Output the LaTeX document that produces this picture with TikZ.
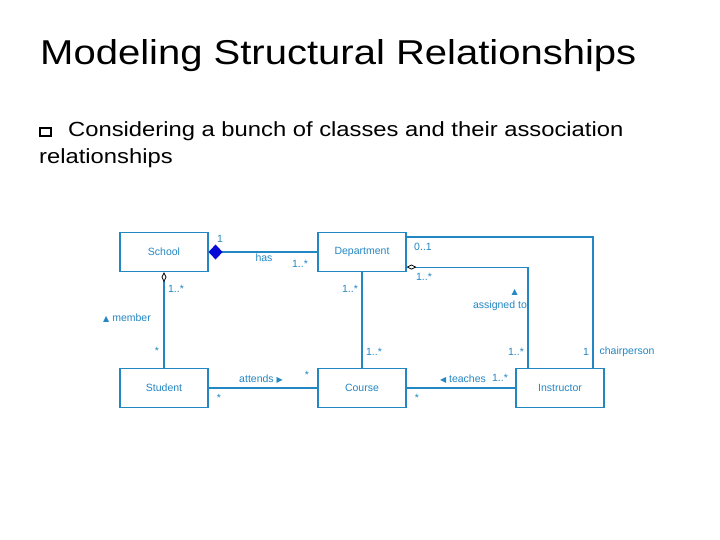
\documentclass[tikz,border=0pt]{standalone}
\usepackage{fontspec}
\setmainfont{Liberation Sans}[FakeStretch=1.16]
\newfontfamily\diafont{Liberation Sans}
\newfontfamily\symfont{DejaVu Sans}
\usetikzlibrary{arrows.meta}
\definecolor{umlblue}{RGB}{35,135,195}
\definecolor{umlfill}{RGB}{10,10,215}
\tikzset{
  cls/.style={draw=umlblue, line width=1.1pt, minimum width=88pt, minimum height=39pt,
    inner sep=0pt, text=umlblue, font=\diafont\fontsize{10.5}{12}\selectfont},
  assoc/.style={draw=umlblue, line width=1.1pt},
  lbl/.style={text=umlblue, inner sep=0pt, font=\diafont\fontsize{10.5}{12}\selectfont},
  hollow/.style={{Diamond[open,color=black,length=10pt,width=5pt,line width=0.8pt]}-},
}
\newcommand{\uptri}{{\symfont\fontsize{8}{8}\selectfont ▲}}
\newcommand{\righttri}{{\symfont\fontsize{8}{8}\selectfont ▶}}
\newcommand{\lefttri}{{\symfont\fontsize{8}{8}\selectfont ◀}}
\begin{document}
\begin{tikzpicture}[x=1pt,y=-1pt]
\useasboundingbox[fill=white] (0,0) rectangle (720,540);
% Title and bullet text
\node[anchor=base west, inner sep=0pt, font=\fontsize{34.5}{40}\selectfont] (title) at (40,65) {Modeling Structural Relationships};
\node[draw, line width=2.8pt, minimum width=11pt, minimum height=8pt, inner sep=0pt] (bullet) at (45.5,132) {};
\node[anchor=base west, inner sep=0pt, font=\fontsize{20.5}{24}\selectfont] (point) at (68,137) {Considering a bunch of classes and their association};
\node[anchor=base west, inner sep=0pt, font=\fontsize{20.5}{24}\selectfont] (point2) at (39,164) {relationships};
% Classes
\node[cls] (school) at (164,252) {School};
\node[cls] (dept) at (362,252) {Department};
\node[cls] (student) at (164,388) {Student};
\node[cls] (course) at (362,388) {Course};
\node[cls] (instr) at (560,388) {Instructor};
% Associations
\draw[assoc, {Diamond[length=14pt,width=15pt,color=umlfill,fill=umlfill]}-] (school.east) -- (dept.west);
\draw[assoc, hollow] (school.south) -- (student.north);
\draw[assoc] (dept.south) -- (course.north);
\draw[assoc] (student.east) -- (course.west);
\draw[assoc] (course.east) -- (instr.west);
\draw[assoc] ([yshift=-5pt]dept.north east) -| ([xshift=33pt]instr.north);
\draw[assoc, hollow] ([yshift=5pt]dept.south east) -| ([xshift=-32pt]instr.north);
% Labels
\node[lbl] (l1) at (220,239) {1};
\node[lbl] (has) at (264,258) {has};
\node[lbl] (m1) at (300,264) {1..*};
\node[lbl] (m2) at (176,289) {1..*};
\node[lbl] (m3) at (350,289) {1..*};
\node[lbl] (m4) at (423,247) {0..1};
\node[lbl] (m5) at (424,277) {1..*};
\node[lbl] (member) at (127,318) {\uptri\ member};
\node[lbl, align=right] (assigned) at (500,300) {\uptri\hspace*{9pt}\\[2pt] assigned to};
\node[lbl] (m6) at (157,351) {*};
\node[lbl] (m7) at (374,352) {1..*};
\node[lbl] (m8) at (516,352) {1..*};
\node[lbl] (l2) at (586,352) {1};
\node[lbl] (chair) at (627,352) {chairperson};
\node[lbl] (attends) at (261,379) {attends \righttri};
\node[lbl] (m9) at (307,375) {*};
\node[lbl] (m10) at (219,398) {*};
\node[lbl] (teaches) at (463,379) {\lefttri\ teaches};
\node[lbl] (m11) at (500,378) {1..*};
\node[lbl] (m12) at (417,398) {*};
\end{tikzpicture}
\end{document}
